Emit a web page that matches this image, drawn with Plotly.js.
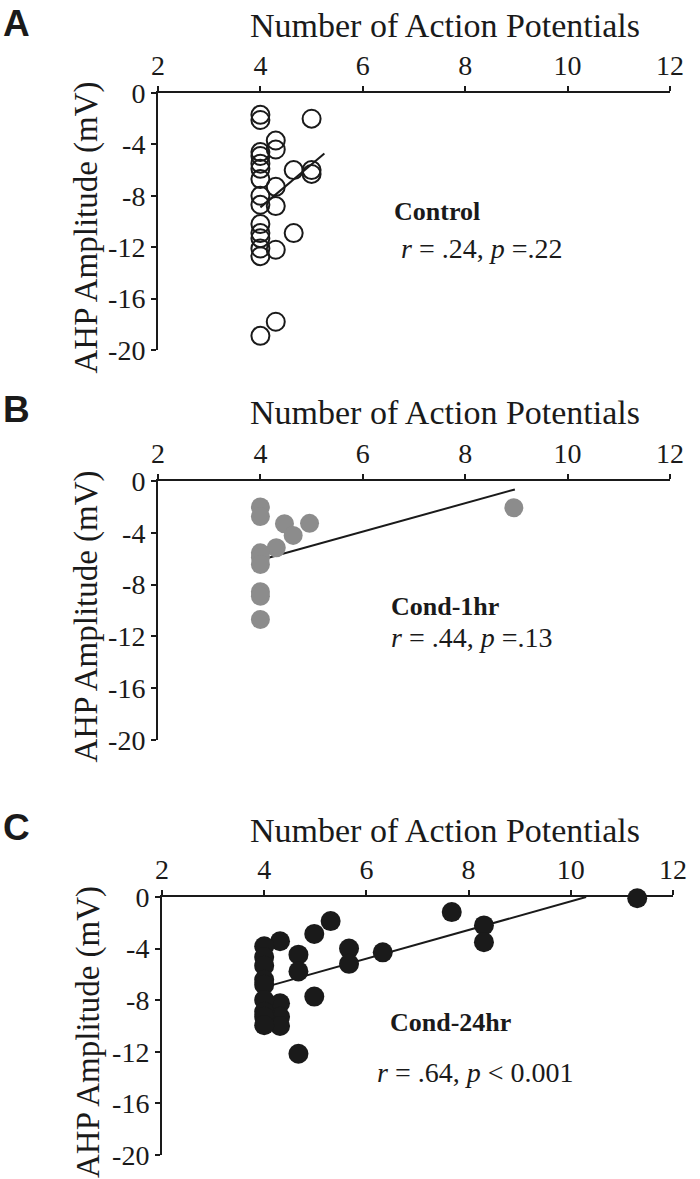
<!DOCTYPE html>
<html>
<head>
<meta charset="utf-8">
<script src="https://cdn.plot.ly/plotly-3.0.1.min.js"></script>
<style>html,body{margin:0;padding:0;background:#fff;}#chart{width:700px;height:1179px;}</style>
</head>
<body>
<div id="chart"></div>
<script>
// ---- Data ----
const panelLetters = ["A", "B", "C"];
const groupNames = ["Control", "Cond-1hr", "Cond-24hr"];
const statTexts = ["<i>r</i> = .24, <i>p</i> =.22", "<i>r</i> = .44, <i>p</i> =.13", "<i>r</i> = .64, <i>p</i> < 0.001"];
const xTitle = "Number of Action Potentials";
const yTitle = "AHP Amplitude (mV)";
const xTicks = [2, 4, 6, 8, 10, 12];
const yTicks = [0, -4, -8, -12, -16, -20];

const controlX = [4, 4, 5, 4.3, 4.3, 4, 4, 4, 4, 4.65, 5, 5, 4.3, 4, 4, 4.3, 4, 4, 4, 4.65, 4, 4, 4.3, 4, 4.3, 4];
const controlY = [-1.7, -2.1, -2.0, -3.7, -4.4, -4.6, -5.5, -5.9, -6.7, -6.0, -6.0, -6.3, -7.3, -8.0, -8.7, -8.8, -10.2, -10.9, -11.3, -10.9, -12.1, -12.7, -12.2, -18.9, -17.8, -4.9];
const controlFitX = [4.0, 5.25];
const controlFitY = [-8.9, -4.7];

const cond1X = [4, 4, 4.47, 4.96, 4.64, 4.31, 4, 4, 4, 4, 4, 4, 8.95];
const cond1Y = [-2.0, -2.75, -3.3, -3.27, -4.2, -5.15, -5.55, -5.9, -6.45, -8.55, -8.9, -10.7, -2.06];
const cond1FitX = [4.0, 8.97];
const cond1FitY = [-6.1, -0.65];

const cond24X = [11.3, 7.67, 8.3, 8.3, 5.3, 4.98, 4.31, 4, 4.67, 4.67, 5.66, 5.66, 6.32, 4.98, 4.31, 4.31, 4.31, 4.67, 4, 4, 4, 4, 4, 4, 4, 4];
const cond24Y = [-0.1, -1.17, -2.2, -3.5, -1.87, -2.86, -3.43, -3.82, -4.47, -5.77, -4.0, -5.18, -4.29, -7.72, -8.24, -9.28, -10.0, -12.15, -4.66, -5.33, -6.42, -6.8, -7.98, -8.9, -9.28, -9.94];
const cond24FitX = [4.05, 10.3];
const cond24FitY = [-6.95, 0.0];

// ---- Layout geometry (pixels) ----
const W = 700, H = 1179;
const panels = [
  {x0: 158, x1: 670, top: 93, bottom: 350, letterY: 23, titleY: 25, yTitleX: 86, nameX: 437, nameY: 211, statX: 482, statY: 248},
  {x0: 158, x1: 670, top: 481, bottom: 740, letterY: 409, titleY: 412, yTitleX: 86, nameX: 445, nameY: 606, statX: 472, statY: 638},
  {x0: 162, x1: 673, top: 897, bottom: 1155, letterY: 827, titleY: 830, yTitleX: 88, nameX: 451, nameY: 1022, statX: 475, statY: 1072}
];
const px = v => v / W;
const py = v => 1 - v / H;

const serif = "'Liberation Serif', 'Times New Roman', serif";
const sans = "'Liberation Sans', Arial, sans-serif";
const ink = "#1a1a1a";

const datasets = [
  {x: controlX, y: controlY, fx: controlFitX, fy: controlFitY,
   marker: {size: 18, color: "rgba(0,0,0,0)", line: {color: ink, width: 2}}},
  {x: cond1X, y: cond1Y, fx: cond1FitX, fy: cond1FitY,
   marker: {size: 19, color: "#8c8c8c", line: {width: 0}}},
  {x: cond24X, y: cond24Y, fx: cond24FitX, fy: cond24FitY,
   marker: {size: 20, color: ink, line: {width: 0}}}
];

const traces = [];
const layout = {
  width: W, height: H,
  margin: {l: 0, r: 0, t: 0, b: 0},
  paper_bgcolor: "#fff", plot_bgcolor: "rgba(0,0,0,0)",
  showlegend: false,
  font: {family: serif, color: ink},
  annotations: []
};

panels.forEach((p, i) => {
  const sfx = i === 0 ? "" : String(i + 1);
  const d = datasets[i];
  traces.push({
    type: "scatter", mode: "lines", x: d.fx, y: d.fy,
    xaxis: "x" + sfx, yaxis: "y" + sfx,
    line: {color: ink, width: 2}, hoverinfo: "skip"
  });
  traces.push({
    type: "scatter", mode: "markers", x: d.x, y: d.y,
    xaxis: "x" + sfx, yaxis: "y" + sfx,
    marker: d.marker, cliponaxis: false
  });
  layout["xaxis" + sfx] = {
    domain: [px(p.x0), px(p.x1)], anchor: "y" + sfx, side: "top",
    range: [2, 12], tickvals: xTicks, ticktext: xTicks.map(String),
    showline: true, linecolor: ink, linewidth: 2,
    ticks: "outside", ticklen: 5, tickwidth: 2, tickcolor: ink,
    showgrid: false, zeroline: false,
    tickfont: {family: serif, size: 28, color: ink}
  };
  layout["yaxis" + sfx] = {
    domain: [py(p.bottom), py(p.top)], anchor: "x" + sfx,
    range: [-20, 0], tickvals: yTicks, ticktext: yTicks.map(String),
    showline: true, linecolor: ink, linewidth: 2,
    ticks: "outside", ticklen: 5, tickwidth: 2, tickcolor: ink,
    showgrid: false, zeroline: false,
    tickfont: {family: serif, size: 28, color: ink}
  };
  // panel letter
  layout.annotations.push({
    text: "<b>" + panelLetters[i] + "</b>", xref: "paper", yref: "paper",
    x: px(2), y: py(p.letterY), xanchor: "left", yanchor: "middle", showarrow: false,
    borderpad: 0,
    font: {family: sans, size: 37, color: ink}
  });
  // x title
  layout.annotations.push({
    text: xTitle, xref: "paper", yref: "paper",
    x: px(445), y: py(p.titleY), xanchor: "center", yanchor: "middle", showarrow: false,
    font: {family: serif, size: 34, color: ink}
  });
  // y title
  layout.annotations.push({
    text: yTitle, xref: "paper", yref: "paper", textangle: -90,
    x: px(p.yTitleX), y: py((p.top + p.bottom) / 2 + 6), xanchor: "center", yanchor: "middle", showarrow: false,
    font: {family: serif, size: 33, color: ink}
  });
  // group name
  layout.annotations.push({
    text: "<b>" + groupNames[i] + "</b>", xref: "paper", yref: "paper",
    x: px(p.nameX), y: py(p.nameY), xanchor: "center", yanchor: "middle", showarrow: false,
    font: {family: serif, size: 26, color: ink}
  });
  // stats
  layout.annotations.push({
    text: statTexts[i], xref: "paper", yref: "paper",
    x: px(p.statX), y: py(p.statY), xanchor: "center", yanchor: "middle", showarrow: false,
    font: {family: serif, size: 28, color: ink}
  });
});

Plotly.newPlot("chart", traces, layout, {staticPlot: true, displayModeBar: false});
</script>
</body>
</html>
